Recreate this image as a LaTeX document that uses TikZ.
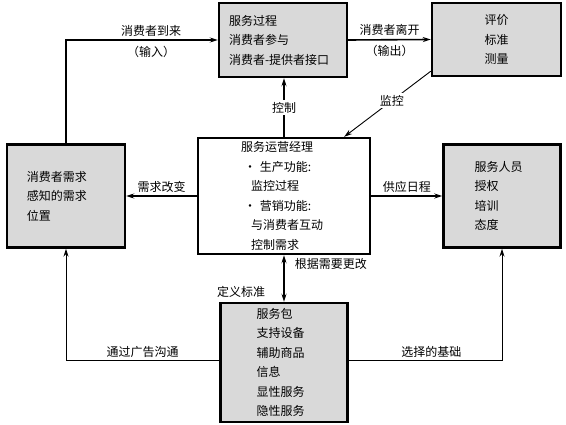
\documentclass[tikz,border=0pt]{standalone}
\usepackage{fontspec}
\setmainfont{Noto Sans CJK SC}
\usetikzlibrary{arrows.meta,positioning}
\tikzset{
  >={Stealth[length=8pt,width=5pt]},
  box/.style={rectangle,draw,line width=2.4pt,fill=black!15,inner sep=0pt,align=left,
    font=\fontsize{12}{19.5}\selectfont},
  wbox/.style={box,fill=white},
  main/.style={->,line width=1.6pt},
  conn/.style={->,line width=0.9pt},
  lbl/.style={font=\fontsize{12}{14}\selectfont,inner sep=2pt}
}
\begin{document}
\begin{tikzpicture}[x=1pt,y=-1pt]
    \useasboundingbox (0,0) rectangle (566,425);

    % === boxes ===
    \node[box,minimum width=128pt,minimum height=74pt,text width=108pt] (proc) at (283,40)
        {服务过程\\消费者参与\\消费者-提供者接口};
    \node[box,minimum width=129pt,minimum height=73pt,align=center] (eval) at (496.5,39.5)
        {评价\\标准\\测量};
    \node[box,minimum width=118pt,minimum height=103pt,text width=78pt] (need) at (66,196)
        {消费者需求\\感知的需求\\位置};
    \node[wbox,minimum width=172pt,minimum height=116pt,text width=86pt] (mgr) at (284,196)
        {服务运营经理\\\hspace*{3pt}• 生产功能:\\\hspace*{10pt}监控过程\\\hspace*{3pt}• 营销功能:\\\hspace*{10pt}与消费者互动\\\hspace*{10pt}控制需求};
    \node[box,minimum width=117pt,minimum height=103pt,text width=55pt] (staff) at (502,196)
        {服务人员\\授权\\培训\\态度};
    \node[box,minimum width=127pt,minimum height=119pt,text width=55pt] (pkg) at (284,362.5)
        {服务包\\支持设备\\辅助商品\\信息\\显性服务\\隐性服务};

    % === connectors ===
    \draw[main] (need.north) |- (proc.west)
        node[lbl,pos=0.78,above=1pt] {消费者到来}
        node[lbl,pos=0.78,below=3pt] {（输入）};
    \draw[main] (proc.east) -- (eval.west)
        node[lbl,midway,above=1pt] {消费者离开}
        node[lbl,midway,below=3pt] {（输出）};
    \draw[main] (mgr.north) -- (mgr.north |- proc.south)
        node[lbl,midway,fill=white] {控制};
    \draw[conn] ([yshift=6pt]eval.south west) -- ([xshift=-27pt]mgr.north east)
        node[lbl,pos=0.45,fill=white] {监控};
    \draw[main] (mgr.west) -- (need.east)
        node[lbl,midway,above=1pt] {需求改变};
    \draw[main] (mgr.east) -- (staff.west)
        node[lbl,midway,above=1pt] {供应日程};
    \draw[main,<->] (mgr.south) -- (pkg.north)
        node[lbl,pos=0.18,right=8pt] {根据需要更改}
        node[lbl,pos=0.78,left=16pt] {定义标准};

    % bottom links
    \draw[conn] ([yshift=2.5pt]pkg.west) -| (need.south)
        node[lbl,pos=0.25,above] {通过广告沟通};
    \draw[conn] ([yshift=2.5pt]pkg.east) -| (staff.south)
        node[lbl,pos=0.27,above] {选择的基础};

\end{tikzpicture}
\end{document}
